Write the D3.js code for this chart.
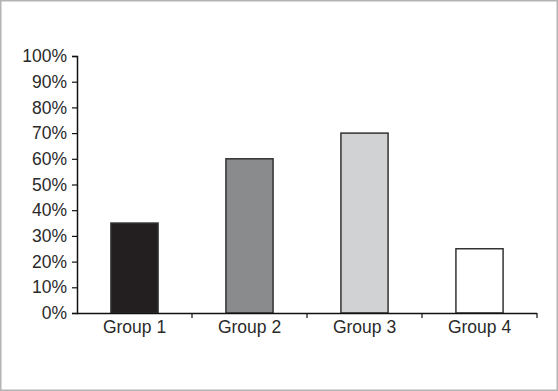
<!DOCTYPE html>
<html>
<head>
<meta charset="utf-8">
<script src="https://cdn.jsdelivr.net/npm/d3@7"></script>
<style>
  html, body { margin: 0; padding: 0; background: #fff; }
  svg { display: block; }
  .tick text { font-family: 'Liberation Sans', Arial, sans-serif; font-size: 17.5px; fill: #2a2a2a; }
</style>
</head>
<body>
<svg></svg>
<script>
const categories = ['Group 1', 'Group 2', 'Group 3', 'Group 4'];
const values = [35, 60, 70, 25];
const barColors = ['#231f20', '#8a8b8d', '#d1d2d4', '#ffffff'];
const yTicks = [0, 10, 20, 30, 40, 50, 60, 70, 80, 90, 100];

const width = 558, height = 391;
const svg = d3.select('svg').attr('width', width).attr('height', height);

// 外框
svg.append('rect')
  .attr('x', 0.75).attr('y', 0.75)
  .attr('width', width - 1.5).attr('height', height - 1.5)
  .style('fill', '#fff')
  .style('stroke', '#b4b4b4')
  .style('stroke-width', 1.5);

const mLeft = 77, mRight = 537, mTop = 56, mBottom = 313;

const x = d3.scaleBand().domain(categories).range([mLeft, mRight]).paddingInner(0).paddingOuter(0);
const y = d3.scaleLinear().domain([0, 100]).range([mBottom, mTop]);

// 柱子
const barW = x.bandwidth() * 0.41;
svg.selectAll('rect.bar')
  .data(categories)
  .enter()
  .append('rect')
  .attr('class', 'bar')
  .attr('x', (d) => x(d) + (x.bandwidth() - barW) / 2)
  .attr('y', (d, i) => y(values[i]))
  .attr('width', barW)
  .attr('height', (d, i) => mBottom - y(values[i]))
  .style('fill', (d, i) => barColors[i])
  .style('stroke', '#333')
  .style('stroke-width', 1.5);

// y 軸
const yAxis = svg.append('g')
  .attr('transform', `translate(${mLeft},0)`)
  .call(d3.axisLeft(y).tickValues(yTicks).tickSize(5).tickPadding(5).tickFormat((d) => d + '%'));

// x 軸
const xAxis = svg.append('g')
  .attr('transform', `translate(0,${mBottom})`)
  .call(d3.axisBottom(x).tickSize(0).tickPadding(8));

xAxis.selectAll('.tick text').attr('dy', '0.71em');

// x 軸分隔刻度
svg.selectAll('line.sep')
  .data(categories)
  .enter()
  .append('line')
  .attr('class', 'sep')
  .attr('x1', (d) => x(d) + x.bandwidth())
  .attr('x2', (d) => x(d) + x.bandwidth())
  .attr('y1', mBottom)
  .attr('y2', mBottom + 5)
  .style('stroke', '#111')
  .style('stroke-width', 1.2);

[yAxis, xAxis].forEach((a) => {
  a.select('.domain').style('stroke', '#111').style('stroke-width', 1.5);
  a.selectAll('.tick line').style('stroke', '#111').style('stroke-width', 1.2);
});
xAxis.select('.domain').attr('d', `M${mLeft},0.5H${mRight}`);
</script>
</body>
</html>
